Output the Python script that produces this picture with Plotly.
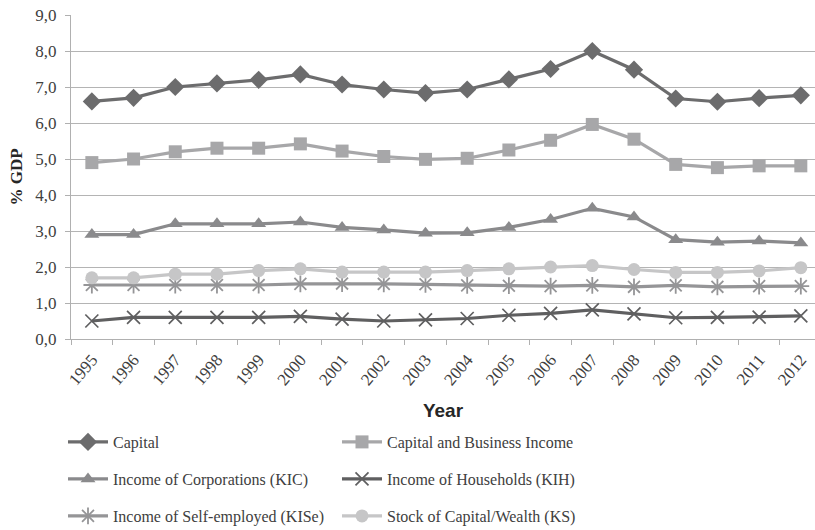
import plotly.graph_objects as go

years = [str(y) for y in range(1995, 2013)]

capital = [6.6, 6.7, 7.0, 7.1, 7.2, 7.35, 7.07, 6.93, 6.83, 6.93, 7.21, 7.5, 8.0, 7.48, 6.68, 6.59, 6.69, 6.77]
capital_business = [4.9, 5.0, 5.2, 5.3, 5.3, 5.42, 5.22, 5.07, 4.99, 5.02, 5.25, 5.52, 5.96, 5.55, 4.85, 4.76, 4.81, 4.81]
kic = [2.9, 2.9, 3.2, 3.2, 3.2, 3.25, 3.1, 3.03, 2.94, 2.95, 3.1, 3.32, 3.63, 3.39, 2.76, 2.69, 2.72, 2.67]
kih = [0.5, 0.6, 0.6, 0.6, 0.6, 0.63, 0.55, 0.5, 0.53, 0.57, 0.66, 0.71, 0.81, 0.7, 0.59, 0.6, 0.61, 0.64]
kise = [1.5, 1.5, 1.5, 1.5, 1.5, 1.53, 1.54, 1.53, 1.52, 1.49, 1.48, 1.47, 1.49, 1.45, 1.49, 1.45, 1.47, 1.47]
ks = [1.7, 1.7, 1.8, 1.8, 1.9, 1.95, 1.86, 1.86, 1.86, 1.9, 1.95, 2.0, 2.04, 1.93, 1.85, 1.85, 1.89, 1.98]

serif = "Liberation Serif"
text_col = "#404040"

series = [
    ("Capital", capital, "#6c6c6d", dict(symbol="diamond", size=14), "legend"),
    ("Capital and Business Income", capital_business, "#a7a7a9", dict(symbol="square", size=13), "legend"),
    ("Income of Corporations (KIC)", kic, "#8a8a8c", dict(symbol="triangle-up", size=13), "legend2"),
    ("Income of Households (KIH)", kih, "#5f5f60", dict(symbol="x-thin", size=13, line=dict(width=1.7, color="#5f5f60")), "legend2"),
    ("Income of Self-employed (KISe)", kise, "#959597", dict(symbol="asterisk", size=14, line=dict(width=1.8, color="#959597")), "legend3"),
    ("Stock of Capital/Wealth (KS)", ks, "#c6c6c7", dict(symbol="circle", size=13), "legend3"),
]

fig = go.Figure()
for name, vals, col, mk, lg in series:
    mk = dict(mk)
    mk["color"] = col
    fig.add_trace(go.Scatter(
        x=years, y=vals, name=name, mode="lines+markers",
        line=dict(color=col, width=3.2), marker=mk, legend=lg,
    ))

leg_common = dict(
    orientation="h", xanchor="left", yanchor="middle",
    xref="container", yref="container",
    entrywidth=219, entrywidthmode="pixels",
    font=dict(family=serif, size=16, color=text_col),
    bgcolor="rgba(0,0,0,0)", itemwidth=40,
)

fig.update_layout(
    width=815, height=530,
    margin=dict(l=71, r=0, t=15, b=191, autoexpand=False),
    paper_bgcolor="white", plot_bgcolor="white",
    separators=", ",
    showlegend=True,
    legend=dict(x=0.0773, y=1 - 442 / 530, **leg_common),
    legend2=dict(x=0.0773, y=1 - 479 / 530, **leg_common),
    legend3=dict(x=0.0773, y=1 - 516 / 530, **leg_common),
    xaxis=dict(
        type="category", range=[-0.5, 17.34], automargin=False,
        tickson="boundaries", ticks="outside", ticklen=5, tickcolor="#b0b0b0",
        showgrid=False, showline=True, linecolor="#b0b0b0", linewidth=1.3,
        tickangle=-50, tickfont=dict(family=serif, size=17, color=text_col), ticklabelstandoff=3,
        title=dict(text="<b>Year</b>", font=dict(family="Liberation Sans", size=19, color="#262626"), standoff=15),
    ),
    yaxis=dict(
        range=[0, 9], dtick=1, tickformat=".1f", automargin=False,
        ticks="outside", ticklen=5, tickcolor="#b0b0b0",
        showgrid=True, gridcolor="#b4b4b4", gridwidth=1.3,
        showline=True, linecolor="#b0b0b0", linewidth=1.3, zeroline=False,
        tickfont=dict(family=serif, size=17, color=text_col), ticklabelstandoff=5,
        title=dict(text="<b>% GDP</b>", font=dict(family=serif, size=17, color="#262626"), standoff=8),
    ),
)

fig.write_html("out.html")
